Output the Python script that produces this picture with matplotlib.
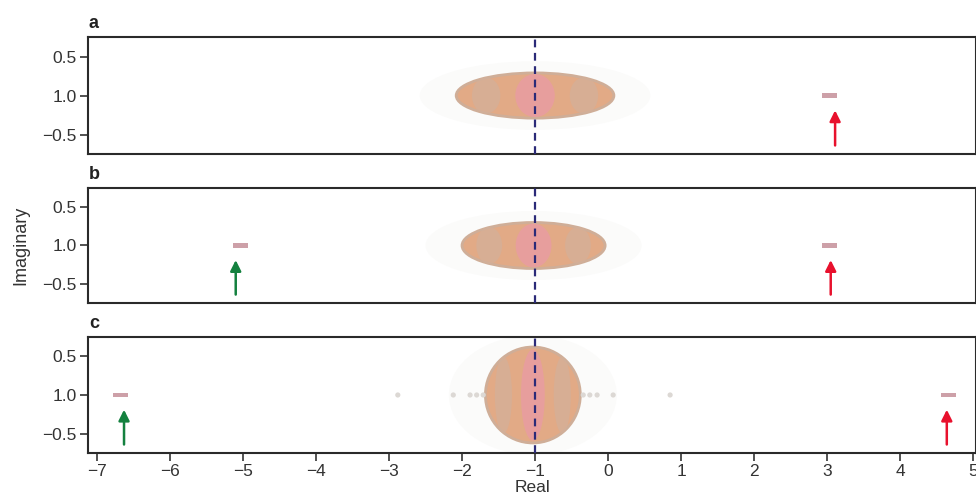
import matplotlib.pyplot as plt
from matplotlib.patches import Ellipse

plt.rcParams['font.family'] = ['Liberation Sans', 'DejaVu Sans']

panels = ['a', 'b', 'c']

# bulk of the spectrum, one ellipse per panel (centre, half-width, half-height)
bulk_re = [-1.0, -1.02, -1.03]
bulk_halfwidth = [1.08, 0.98, 0.65]
bulk_halfheight = [0.29, 0.30, 0.62]

# isolated eigenvalues and the arrows pointing at them
outlier_re = [[3.03], [-5.03, 3.03], [-6.68, 4.66]]
outlier_kind = [['red'], ['green', 'red'], ['green', 'red']]
arrow_re = [[3.11], [-5.10, 3.05], [-6.63, 4.64]]

# stray eigenvalues near the real axis in panel c
stray_re = [-2.88, -2.12, -1.89, -1.80, -1.71, -0.34, -0.25, -0.15, 0.07, 0.85]

xticks = [-7, -6, -5, -4, -3, -2, -1, 0, 1, 2, 3, 4, 5]
yticks = [0.5, 0.0, -0.5]
ytick_labels = ['0.5', '1.0', '\u22120.5']

arrow_colors = {'red': '#e8112d', 'green': '#14813f'}

fig = plt.figure(figsize=(9.76, 5.04), dpi=100)
boxes = [(0.6944, 0.2321), (0.3988, 0.2282), (0.1012, 0.2302)]

axes = []
for i, name in enumerate(panels):
    bottom, height = boxes[i]
    ax = fig.add_axes([0.0902, bottom, 0.9098, height])
    ax.set_xlim(-7.123, 5.04)
    ax.set_ylim(-0.75, 0.75)

    cx = bulk_re[i]
    w = bulk_halfwidth[i]
    h = bulk_halfheight[i]
    # faint halo, main body, pinkish core
    ax.add_patch(Ellipse((cx, 0), 2 * w + 1.0, 2 * h + 0.3,
                         facecolor='#fbfbfa', edgecolor='none', zorder=1))
    ax.add_patch(Ellipse((cx, 0), 2 * w, 2 * h,
                         facecolor='#e2aa86', edgecolor='#cfae98', lw=2.0, zorder=2))
    ax.add_patch(Ellipse((cx, 0), 2 * w * 0.25, 2 * h * 0.95,
                         facecolor='#ea9aa6', edgecolor='none', alpha=0.75, zorder=3))
    ax.add_patch(Ellipse((cx - w * 0.62, 0), 2 * w * 0.18, 2 * h * 0.8,
                         facecolor='#d3b09a', edgecolor='none', alpha=0.7, zorder=3))
    ax.add_patch(Ellipse((cx + w * 0.62, 0), 2 * w * 0.18, 2 * h * 0.8,
                         facecolor='#d3b09a', edgecolor='none', alpha=0.7, zorder=3))

    if name == 'c':
        ax.scatter(stray_re, [0] * len(stray_re), s=14, marker='o',
                   color='#dcd8d4', edgecolors='none', zorder=2)

    for re, kind, are in zip(outlier_re[i], outlier_kind[i], arrow_re[i]):
        ax.scatter([re], [0], s=120, marker=[(-3.5, -1), (3.5, -1), (3.5, 1), (-3.5, 1)],
                   color='#cda0a8', edgecolors='none', zorder=4)
        ax.annotate('', xy=(are, -0.19), xytext=(are, -0.64),
                    arrowprops=dict(arrowstyle='-|>', color=arrow_colors[kind],
                                    lw=1.8, mutation_scale=16, shrinkA=0, shrinkB=0),
                    zorder=5)

    ax.axvline(-1, color='#2b2a78', lw=1.6, ls=(0, (3.5, 2.5)), zorder=6)

    for sp in ax.spines.values():
        sp.set_linewidth(1.5)
        sp.set_color('#2a2a2a')

    ax.set_yticks(yticks)
    ax.set_yticklabels(ytick_labels)
    ax.set_xticks(xticks)
    ax.tick_params(axis='y', direction='out', length=6, width=1.2,
                   labelsize=12.5, colors='#333333', pad=2)
    ax.tick_params(axis='x', direction='out', length=6, width=1.2,
                   labelsize=12.5, colors='#333333', pad=2)
    ax.set_xticklabels(['\u2212%d' % -t if t < 0 else str(t) for t in xticks])
    if name != 'c':
        ax.tick_params(axis='x', bottom=False, labelbottom=False)

    ax.text(0.001, 1.04, name, transform=ax.transAxes, fontsize=13,
            fontweight='bold', color='#222222', ha='left', va='bottom')
    axes.append(ax)

axes[2].set_xlabel('Real', fontsize=12.5, color='#333333', labelpad=1)
fig.text(0.021, 0.513, 'Imaginary', rotation=90, fontsize=13,
         color='#333333', ha='center', va='center')

fig.savefig('out.png', dpi=100)
